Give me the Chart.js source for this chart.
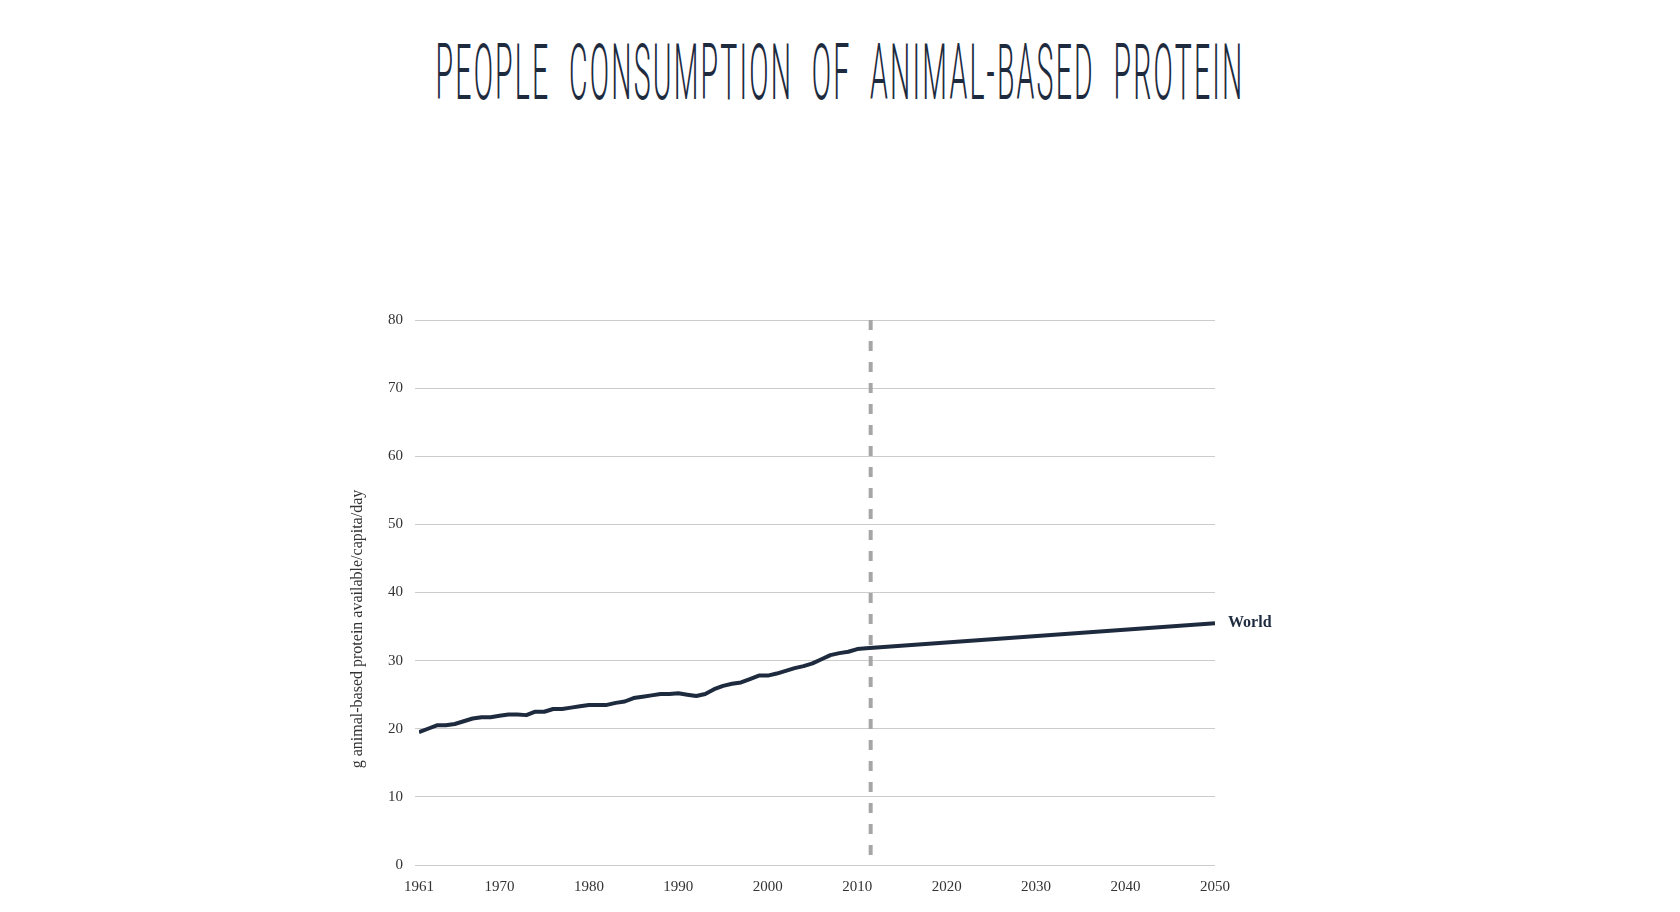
<!DOCTYPE html>
<html>
<head>
<meta charset="utf-8">
<title>People consumption of animal-based protein</title>
<script src="https://cdn.jsdelivr.net/npm/chart.js@4"></script>
<style>
  html, body { margin: 0; padding: 0; background: #fff; }
  body { width: 1680px; height: 912px; position: relative; overflow: hidden; }
  #chart { position: absolute; left: 0; top: 0; }
  #title {
    position: absolute; left: 840px; top: 34px;
    line-height: 78px; white-space: nowrap;
    font-family: Roboto, "Noto Sans", sans-serif; font-weight: 300;
    font-size: 78px; color: #1e2b3f;
    letter-spacing: 6px; word-spacing: 26px;
    transform-origin: 0 0;
  }
</style>
</head>
<body>
<div id="title">PEOPLE CONSUMPTION OF ANIMAL-BASED PROTEIN</div>
<canvas id="chart" width="1680" height="912"></canvas>
<script>
// ── Data ──────────────────────────────────────────────────────────────────────

const firstYear = 1961;
// g animal-based protein available / capita / day, 1961–2011 (one per year)
const worldHistory = [
  19.5, 20.0, 20.5, 20.5, 20.7, 21.1, 21.5, 21.7, 21.7, 21.9,
  22.1, 22.1, 22.0, 22.5, 22.5, 22.9, 22.9, 23.1, 23.3, 23.5,
  23.5, 23.5, 23.8, 24.0, 24.5, 24.7, 24.9, 25.1, 25.1, 25.2,
  25.0, 24.8, 25.1, 25.8, 26.3, 26.6, 26.8, 27.3, 27.8, 27.8,
  28.1, 28.5, 28.9, 29.2, 29.6, 30.2, 30.8, 31.1, 31.3, 31.7,
  31.8,
];
// projection
const projYears  = [2050];
const projValues = [35.5];

const baseYear   = 2011.5;           // dashed divider
const xTickYears = [1961, 1970, 1980, 1990, 2000, 2010, 2020, 2030, 2040, 2050];
const yMin = 0, yMax = 80, yStep = 10;
const seriesLabel = 'World';
const yTitle = 'g animal-based protein available/capita/day';

// ── Chart ─────────────────────────────────────────────────────────────────────

const NAVY = '#1e2b3f';
const SERIF = '"Liberation Serif", "Times New Roman", serif';

const worldPoints = worldHistory.map((v, i) => ({ x: firstYear + i, y: v }))
  .concat(projYears.map((yr, i) => ({ x: yr, y: projValues[i] })));

const endLabel = {
  id: 'endLabel',
  afterDatasetsDraw(chart) {
    const meta = chart.getDatasetMeta(1);
    const pt = meta.data[meta.data.length - 1];
    const ctx = chart.ctx;
    ctx.save();
    ctx.font = `bold 16px ${SERIF}`;
    ctx.fillStyle = NAVY;
    ctx.textBaseline = 'middle';
    ctx.fillText(seriesLabel, pt.x + 13, pt.y);
    ctx.restore();
  },
};

const yTitlePlugin = {
  id: 'yTitle',
  afterDraw(chart) {
    const { left, bottom } = chart.chartArea;
    const ctx = chart.ctx;
    ctx.save();
    ctx.translate(left - 61, bottom - 236);
    ctx.rotate(-Math.PI / 2);
    ctx.font = `16px ${SERIF}`;
    ctx.fillStyle = '#333';
    ctx.textAlign = 'center';
    ctx.textBaseline = 'middle';
    ctx.fillText(yTitle, 0, 0);
    ctx.restore();
  },
};

new Chart(document.getElementById('chart'), {
  type: 'line',
  data: {
    datasets: [
      {
        label: 'base year',
        // drawn top-down so the dash pattern starts at the 80 gridline
        data: [{ x: baseYear, y: yMax }, { x: baseYear, y: yMin }],
        borderColor: '#a6a6a6',
        borderWidth: 4,
        borderDash: [10, 11],
        borderCapStyle: 'butt',
        pointRadius: 0,
        order: 0,
      },
      {
        label: seriesLabel,
        data: worldPoints,
        borderColor: NAVY,
        borderWidth: 4,
        borderJoinStyle: 'round',
        pointRadius: 0,
        tension: 0,
        order: 1,
      },
    ],
  },
  options: {
    responsive: false,
    animation: false,
    events: [],
    layout: { padding: { left: 376, right: 465, top: 320, bottom: 11 } },
    plugins: { legend: { display: false }, tooltip: { enabled: false } },
    scales: {
      x: {
        type: 'linear',
        min: firstYear,
        max: 2050,
        afterBuildTicks: s => { s.ticks = xTickYears.map(v => ({ value: v })); },
        grid: { display: false },
        border: { display: false },
        ticks: {
          autoSkip: false, maxRotation: 0, padding: 5,
          color: '#333', font: { family: SERIF, size: 15 },
          callback: v => String(v),
        },
      },
      y: {
        min: yMin,
        max: yMax,
        grid: { color: '#cccccc', lineWidth: 1, tickLength: 4 },
        border: { display: false },
        ticks: {
          stepSize: yStep, padding: 12,
          color: '#333', font: { family: SERIF, size: 15 },
        },
      },
    },
  },
  plugins: [endLabel, yTitlePlugin],
});

// squeeze the title into the tall, narrow look of the original
document.fonts.ready.then(() => {
  const t = document.getElementById('title');
  const w = t.getBoundingClientRect().width;
  const s = 809 / w;
  t.style.transform = `scaleX(${s}) translateX(-50%)`;
});
</script>
</body>
</html>
